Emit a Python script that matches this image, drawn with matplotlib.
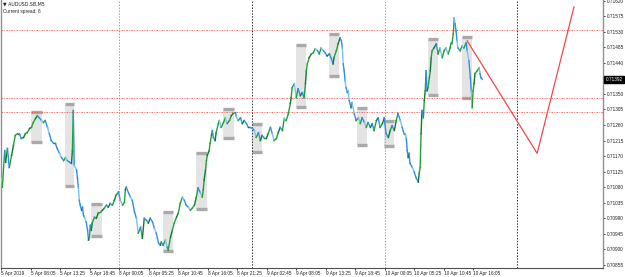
import numpy as np
import matplotlib
matplotlib.use('Agg')
import matplotlib.pyplot as plt
from matplotlib.patches import Rectangle

plt.rcParams['font.family'] = ['Liberation Sans', 'DejaVu Sans']

# M5 bars (index) and price
bars = [0, 2, 7, 9, 13, 17, 22, 26, 30, 35, 39, 43, 48, 52, 56, 61, 65, 69, 74, 78,
        82, 87, 91, 95, 100, 104, 108, 113, 117, 121, 126, 130, 135, 139, 143, 148, 152, 154, 156, 158,
        163, 165, 167, 169, 171, 174, 176, 178, 180, 184, 187, 189, 191, 193, 195, 197, 202, 206, 210, 215,
        219, 223, 228, 232, 236, 241, 245, 249, 254, 258, 263, 267, 269, 271, 276, 280, 284, 289, 293, 297,
        302, 306, 310, 315, 319, 323, 328, 332, 336, 341, 345, 347, 351, 356, 360, 362, 367, 371, 375, 380,
        384, 388, 393, 397, 401, 406, 410, 414, 419, 423, 427, 432, 436, 438, 440, 443, 445, 447, 451, 453,
        456, 458, 460, 464, 466, 471, 473, 477, 482, 486, 490, 495, 499, 503, 508, 510, 514, 519, 523, 527,
        532, 536, 540, 545, 549, 553, 558, 562, 566, 571, 575, 579, 584, 588, 592, 597, 601, 605, 610, 614,
        618, 623, 627, 629, 631, 636, 640, 644, 649, 653, 657, 660, 662, 664, 668, 673, 677, 681, 686, 690,
        694, 699, 703, 707, 712, 716, 720, 722, 727, 731, 735, 738, 740, 742, 744, 746, 748, 751, 753, 755,
        759, 761, 766, 770, 775, 779, 783, 788, 792, 796, 801, 805, 809, 814, 818, 822, 827, 831, 835, 840,
        844, 848, 853, 857, 861, 866, 870, 874, 877, 879, 881, 883, 885, 887, 892, 896, 900, 905, 907, 909,
        911, 913, 916, 918, 920, 922, 924, 926, 929, 931, 933, 935, 939, 944, 948, 952, 957, 961, 965, 970,
        974, 976, 978, 981, 983, 985, 987, 989, 991, 996, 1000, 1004, 1009, 1011, 1015, 1018, 1020, 1022, 1024, 1026,
        1028, 1033, 1037, 1039, 1041, 1044]
price = [0.71106, 0.71080, 0.71186, 0.71152, 0.71192, 0.71137, 0.71172, 0.71201, 0.71230, 0.71235,
         0.71235, 0.71221, 0.71224, 0.71235, 0.71238, 0.71250, 0.71253, 0.71267, 0.71279, 0.71287,
         0.71281, 0.71273, 0.71267, 0.71273, 0.71253, 0.71235, 0.71215, 0.71207, 0.71207, 0.71192,
         0.71178, 0.71166, 0.71157, 0.71166, 0.71157, 0.71152, 0.71149, 0.71186, 0.71302, 0.71143,
         0.71130, 0.71106, 0.71078, 0.71042, 0.71028, 0.71013, 0.71022, 0.70999, 0.70993, 0.70979,
         0.70955, 0.70927, 0.70935, 0.70970, 0.70955, 0.70976, 0.70993, 0.70990, 0.71005, 0.71007,
         0.71013, 0.71019, 0.71028, 0.71022, 0.71033, 0.71028, 0.71042, 0.71057, 0.71066, 0.71042,
         0.71028, 0.71036, 0.71072, 0.71080, 0.71063, 0.71051, 0.71042, 0.71007, 0.70990, 0.70947,
         0.70964, 0.70932, 0.70990, 0.70984, 0.70976, 0.70990, 0.70979, 0.70961, 0.70947, 0.70918,
         0.70912, 0.70921, 0.70912, 0.70927, 0.70906, 0.70898, 0.70935, 0.70955, 0.70976, 0.70993,
         0.71005, 0.71033, 0.71051, 0.71042, 0.71028, 0.71022, 0.71013, 0.71019, 0.71028, 0.71051,
         0.71078, 0.71063, 0.71051, 0.71072, 0.71100, 0.71130, 0.71157, 0.71172, 0.71186, 0.71207,
         0.71230, 0.71244, 0.71224, 0.71215, 0.71238, 0.71264, 0.71273, 0.71253, 0.71267, 0.71281,
         0.71264, 0.71273, 0.71287, 0.71293, 0.71296, 0.71284, 0.71273, 0.71281, 0.71264, 0.71273,
         0.71264, 0.71253, 0.71253, 0.71250, 0.71244, 0.71224, 0.71238, 0.71215, 0.71230, 0.71221,
         0.71221, 0.71235, 0.71253, 0.71235, 0.71215, 0.71221, 0.71238, 0.71253, 0.71244, 0.71279,
         0.71273, 0.71293, 0.71322, 0.71339, 0.71368, 0.71380, 0.71339, 0.71365, 0.71345, 0.71354,
         0.71339, 0.71380, 0.71417, 0.71437, 0.71455, 0.71466, 0.71469, 0.71481, 0.71475, 0.71466,
         0.71483, 0.71475, 0.71469, 0.71460, 0.71466, 0.71453, 0.71437, 0.71455, 0.71475, 0.71495,
         0.71512, 0.71504, 0.71483, 0.71437, 0.71417, 0.71388, 0.71368, 0.71354, 0.71359, 0.71331,
         0.71310, 0.71325, 0.71293, 0.71273, 0.71281, 0.71264, 0.71281, 0.71267, 0.71253, 0.71267,
         0.71253, 0.71264, 0.71244, 0.71273, 0.71281, 0.71253, 0.71264, 0.71281, 0.71235, 0.71224,
         0.71244, 0.71258, 0.71244, 0.71273, 0.71293, 0.71273, 0.71253, 0.71235, 0.71235, 0.71221,
         0.71186, 0.71166, 0.71178, 0.71149, 0.71137, 0.71124, 0.71108, 0.71095, 0.71121, 0.71137,
         0.71235, 0.71302, 0.71281, 0.71331, 0.71359, 0.71417, 0.71359, 0.71368, 0.71397, 0.71417,
         0.71455, 0.71475, 0.71483, 0.71495, 0.71466, 0.71483, 0.71455, 0.71475, 0.71483, 0.71466,
         0.71483, 0.71498, 0.71495, 0.71524, 0.71570, 0.71553, 0.71532, 0.71504, 0.71483, 0.71475,
         0.71489, 0.71483, 0.71498, 0.71475, 0.71446, 0.71397, 0.71359, 0.71310, 0.71359, 0.71380,
         0.71409, 0.71417, 0.71426, 0.71409, 0.71397, 0.71392]

# grey zone boxes
box_start = [65, 137, 195, 351, 423, 482, 545, 640, 712, 772, 831, 926, 1000]
box_end = [87, 158, 219, 373, 447, 505, 566, 662, 733, 794, 853, 948, 1022]
box_high = [0.71299, 0.71322, 0.71031, 0.71007, 0.71178, 0.71305, 0.71264, 0.71492, 0.71524,
            0.71310, 0.71273, 0.71509, 0.71515]
box_low = [0.71212, 0.71082, 0.70938, 0.70895, 0.71016, 0.71221, 0.71181, 0.71313, 0.71403,
           0.71201, 0.71198, 0.71348, 0.71339]

# drawn objects
hlines = [0.71535, 0.71339, 0.71299]
path_bars = [1011, 1163, 1243]
path_price = [0.71504, 0.71178, 0.71602]
day_sep = [256, 544, 832, 1120]
day_sep_col = ['#a0a0a0', '#303030', '#a0a0a0', '#303030']

xlabels = ['5 Apr 2019', '5 Apr 08:05', '5 Apr 13:25', '5 Apr 18:45', '8 Apr 00:05',
           '8 Apr 05:25', '8 Apr 10:45', '8 Apr 16:05', '8 Apr 21:25', '9 Apr 02:45',
           '9 Apr 08:05', '9 Apr 13:25', '9 Apr 18:45', '10 Apr 00:05', '10 Apr 05:25',
           '10 Apr 10:45', '10 Apr 16:05']
ylevels = [0.70855, 0.70900, 0.70945, 0.70990, 0.71035, 0.71080, 0.71125, 0.71170, 0.71215,
           0.71260, 0.71305, 0.71350, 0.71440, 0.71485, 0.71530, 0.71575, 0.71620]
last_price = 0.71392

y0, y1 = 0.70846, 0.71622

fig = plt.figure(figsize=(6.25, 2.77), dpi=100)
ax = fig.add_axes([1 / 625, 9 / 277, 602 / 625, 268 / 277])
ax.set_xlim(-1, 1306)
ax.set_ylim(y0, y1)

for s, e, h, l in zip(box_start, box_end, box_high, box_low):
    ax.add_patch(Rectangle((s, l), e - s, h - l, facecolor='#e4e4e4', edgecolor='none', zorder=1))
    ax.plot([s, e], [h, h], color='#a9a9a9', lw=2.4, solid_capstyle='butt', zorder=1.5)
    ax.plot([s, e], [l, l], color='#a9a9a9', lw=2.4, solid_capstyle='butt', zorder=1.5)

for x, c in zip(day_sep, day_sep_col):
    ax.axvline(x, color=c, lw=0.7, ls=(0, (1.5, 1.5)), zorder=2)
for h in hlines:
    ax.axhline(h, color='#ee5550', lw=0.6, ls=(0, (2, 1.5, 1, 1.5)), zorder=2)

b = np.array(bars)
p = np.array(price)
for i in range(len(b) - 1):
    up = int(p[i + 1] >= p[i])
    col = ['#2e8fe8', '#21a038'][up]
    if i % 3 == 0:
        col = ['#7cc0f5', '#0d7a2c'][up]
    ax.plot(b[i:i + 2], p[i:i + 2], color=col, lw=1.0, zorder=3)

ax.plot(path_bars, path_price, color='#f04848', lw=0.9, zorder=4)

ax.spines['top'].set_visible(False)
ax.spines['left'].set_color('#909090')
ax.spines['right'].set_color('#909090')
ax.spines['bottom'].set_color('#505050')
ax.spines['left'].set_linewidth(1.0)
ax.spines['right'].set_linewidth(1.0)

ax.yaxis.tick_right()
ax.set_yticks(ylevels)
ax.set_yticklabels(['%.5f' % v for v in ylevels])
ax.tick_params(axis='y', labelsize=3.4, length=1.5, width=0.6, pad=1, colors='#202020')
ax.set_xticks([64 * i for i in range(len(xlabels))])
ax.set_xticklabels(xlabels, ha='left')
ax.tick_params(axis='x', labelsize=3.4, length=1.5, width=0.6, pad=1, colors='#202020')

ax.text(1.004, (last_price - y0) / (y1 - y0), '%.5f' % last_price,
        transform=ax.transAxes, fontsize=3.4, color='white', va='center', ha='left',
        bbox=dict(boxstyle='square,pad=0.25', fc='black', ec='black'))

ax.text(0.004, 0.995, '\u25bc AUDUSD.SB,M5', transform=ax.transAxes, fontsize=3.4,
        va='top', ha='left', color='#202020', family=['DejaVu Sans'])
ax.text(0.004, 0.965, 'Current spread: 6', transform=ax.transAxes, fontsize=3.4,
        va='top', ha='left', color='#202020')

fig.savefig('out.png', dpi=100)
